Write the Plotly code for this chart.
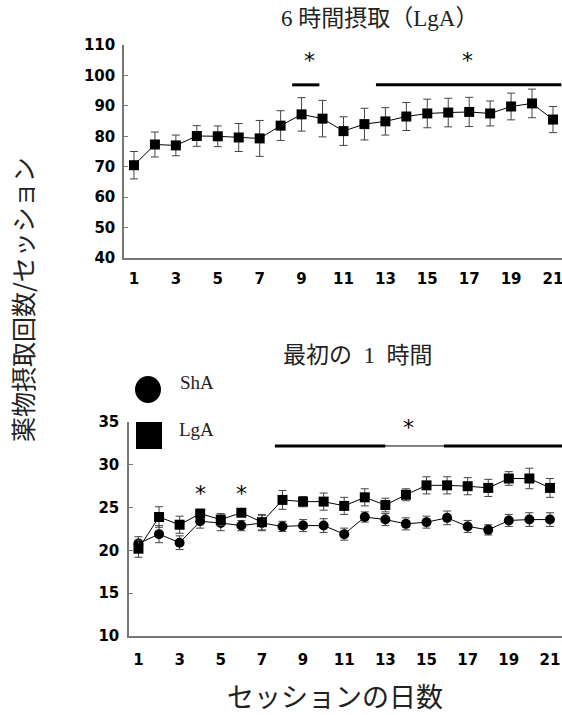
import plotly.graph_objects as go

days = list(range(1, 22))

# 6-hour intake (LgA)
lga6_mean = [70.5, 77.3, 77.0, 80.1, 80.0, 79.6, 79.3, 83.5, 87.2, 85.8, 81.7,
             84.0, 84.9, 86.5, 87.5, 87.8, 88.0, 87.5, 89.8, 90.8, 85.5]
lga6_err = [4.5, 4.1, 3.4, 3.4, 3.4, 4.6, 5.9, 4.9, 5.5, 6.0, 4.7,
            5.2, 4.5, 4.6, 4.7, 4.7, 4.8, 4.1, 4.4, 4.7, 4.3]

# first hour
lga1_mean = [20.2, 23.9, 23.0, 24.3, 23.6, 24.4, 23.3, 25.9, 25.7, 25.7, 25.2,
             26.2, 25.3, 26.5, 27.6, 27.6, 27.5, 27.3, 28.4, 28.4, 27.3]
lga1_err = [1.0, 1.2, 1.0, 0.5, 0.7, 0.4, 0.9, 1.1, 0.6, 1.0, 1.0,
            1.0, 0.8, 0.7, 1.0, 1.0, 1.0, 1.0, 0.8, 1.2, 1.1]
sha1_mean = [20.8, 21.9, 20.9, 23.4, 23.2, 22.9, 23.2, 22.8, 22.9, 22.9, 21.9,
             23.9, 23.6, 23.1, 23.3, 23.8, 22.8, 22.4, 23.5, 23.6, 23.6]
sha1_err = [0.8, 1.0, 0.8, 0.8, 0.9, 0.6, 0.9, 0.6, 0.7, 0.8, 0.7,
            0.6, 0.7, 0.7, 0.7, 0.8, 0.7, 0.6, 0.7, 0.8, 0.8]

x_ticks = [1, 3, 5, 7, 9, 11, 13, 15, 17, 19, 21]
top_yticks = [40, 50, 60, 70, 80, 90, 100, 110]
bot_yticks = [10, 15, 20, 25, 30, 35]

# significance bars (day ranges) and asterisks
top_sig_bars = [(8.55, 9.85), (12.55, 21.4)]
top_sig_y = 96.9
top_stars = [(9.4, 105.0), (16.9, 105.0)]
bot_sig_thick = [(7.63, 13.0), (15.84, 21.6)]
bot_sig_thin = [(13.0, 15.84)]
bot_sig_y = 32.2
bot_stars = [(4.0, 26.6), (6.0, 26.6), (14.1, 34.3)]

W, H = 562, 715
def px(x):
    return x / W
def py(y):
    return 1 - y / H

fig = go.Figure()

errstyle = dict(type="data", thickness=1, width=4, color="#444")

fig.add_trace(go.Scatter(x=days, y=lga6_mean, mode="lines+markers",
                         line=dict(color="black", width=1),
                         marker=dict(symbol="square", size=10, color="black"),
                         error_y=dict(array=lga6_err, **errstyle),
                         xaxis="x", yaxis="y", showlegend=False))

fig.add_trace(go.Scatter(x=days, y=sha1_mean, mode="lines+markers",
                         line=dict(color="black", width=1),
                         marker=dict(symbol="circle", size=10, color="black"),
                         error_y=dict(array=sha1_err, **errstyle),
                         xaxis="x2", yaxis="y2", showlegend=False))
fig.add_trace(go.Scatter(x=days, y=lga1_mean, mode="lines+markers",
                         line=dict(color="black", width=1),
                         marker=dict(symbol="square", size=10, color="black"),
                         error_y=dict(array=lga1_err, **errstyle),
                         xaxis="x2", yaxis="y2", showlegend=False))

shapes = []
for a, b in top_sig_bars:
    shapes.append(dict(type="line", xref="x", yref="y", x0=a, x1=b,
                       y0=top_sig_y, y1=top_sig_y, line=dict(color="black", width=3)))
for a, b in bot_sig_thick:
    shapes.append(dict(type="line", xref="x2", yref="y2", x0=a, x1=b,
                       y0=bot_sig_y, y1=bot_sig_y, line=dict(color="black", width=3)))
for a, b in bot_sig_thin:
    shapes.append(dict(type="line", xref="x2", yref="y2", x0=a, x1=b,
                       y0=bot_sig_y, y1=bot_sig_y, line=dict(color="black", width=1)))

# legend markers
shapes.append(dict(type="circle", xref="paper", yref="paper",
                   x0=px(135), x1=px(161), y0=py(403), y1=py(376),
                   fillcolor="black", line=dict(color="black", width=0)))
shapes.append(dict(type="rect", xref="paper", yref="paper",
                   x0=px(136), x1=px(162), y0=py(449), y1=py(422),
                   fillcolor="black", line=dict(color="black", width=0)))

annotations = []
starfont = dict(family="DejaVu Sans", size=22, color="black")
for x, y in top_stars:
    annotations.append(dict(x=x, y=y, xref="x", yref="y", text="*", showarrow=False,
                            xanchor="center", yanchor="middle", font=starfont))
for x, y in bot_stars:
    annotations.append(dict(x=x, y=y, xref="x2", yref="y2", text="*", showarrow=False,
                            xanchor="center", yanchor="middle", font=starfont))

serif = "Liberation Serif, Noto Sans CJK JP"
cjk = "Noto Sans CJK JP"
def note(x, y, text, font, xanchor="center", angle=0):
    return dict(x=px(x), y=py(y), xref="paper", yref="paper", text=text,
                xanchor=xanchor, yanchor="middle", textangle=angle,
                showarrow=False, font=font)

annotations += [
    note(379, 19, "6 時間摂取（LgA）", dict(family=serif, size=23, color="#222")),
    note(358, 356, "最初の\u20021\u2002時間", dict(family=serif, size=23, color="#222")),
    note(178, 382, "ShA", dict(family="Liberation Serif", size=19, color="#222"), "left"),
    note(177, 429, "LgA", dict(family="Liberation Serif", size=19, color="#222"), "left"),
    note(335, 695, "セッションの日数", dict(family=cjk, size=27, color="#222")),
    note(22, 300, "薬物摂取回数/セッション", dict(family=cjk, size=25, color="#222"),
         "center", -90),
]

tickfont = dict(family="DejaVu Sans", size=15, color="black", weight="bold")
axis_common = dict(showgrid=False, zeroline=False, showline=True, automargin=False,
                   linecolor="#777", linewidth=1.5, tickfont=tickfont,
                   ticklabeloverflow="allow")

fig.update_layout(
    width=W, height=H, margin=dict(l=0, r=0, t=0, b=0, autoexpand=False),
    paper_bgcolor="white", plot_bgcolor="white",
    shapes=shapes, annotations=annotations,
    xaxis=dict(domain=[px(124), 1.0], range=[0.524, 21.43], tickvals=x_ticks,
               ticks="", ticklabelstandoff=6, anchor="y", **axis_common),
    yaxis=dict(domain=[py(258), py(45)], range=[40, 110], tickvals=top_yticks,
               ticks="inside", ticklen=4, tickcolor="#777", anchor="x",
               ticklabelstandoff=4, **axis_common),
    xaxis2=dict(domain=[px(129), 1.0], range=[0.54, 21.585], tickvals=x_ticks,
                ticks="", ticklabelstandoff=9, anchor="y2", **axis_common),
    yaxis2=dict(domain=[py(636), py(422)], range=[10, 35], tickvals=bot_yticks,
                ticks="inside", ticklen=4, tickcolor="#777", anchor="x2",
                ticklabelstandoff=5, **axis_common),
)

fig.write_html("out.html", config={"displayModeBar": False},
               post_script="document.body.style.margin='0px';"
                           "document.body.style.overflow='hidden';")
